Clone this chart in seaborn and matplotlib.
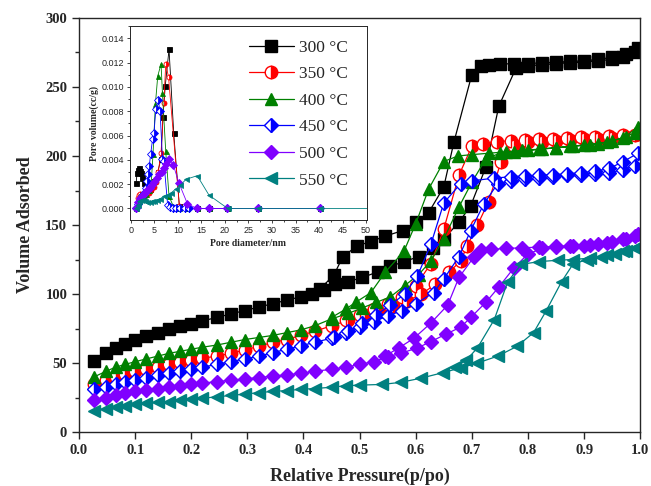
import numpy as np
import pandas as pd
import seaborn as sns
import matplotlib.pyplot as plt
from matplotlib.ticker import MultipleLocator

sns.set_style('ticks')
plt.rcParams['font.family'] = ['Liberation Serif', 'DejaVu Serif']

#---------------------Isotermas: rama de adsorcion y desorcion------------------
p300_ads = [0.027, 0.048, 0.065, 0.082, 0.10, 0.12, 0.14, 0.16, 0.18, 0.20, 0.22, 0.245, 0.27, 0.295,
            0.32, 0.345, 0.37, 0.395, 0.415, 0.436, 0.457, 0.48, 0.505, 0.532, 0.555, 0.579, 0.605,
            0.63, 0.65, 0.677, 0.698, 0.725, 0.748, 0.779, 0.80, 0.825, 0.85, 0.875, 0.90, 0.925,
            0.95, 0.97, 0.99]
v300_ads = [51.5, 57, 61, 64, 67, 69.5, 72, 74.5, 76.5, 78.5, 80.5, 83, 85.5, 88, 90.5, 93, 95.5,
            98, 100, 103, 107, 109, 112, 116, 120, 123.5, 127, 133, 140, 152, 164, 192, 236, 264,
            265.5, 266, 267, 267.5, 268, 269, 270, 272, 275]
p300_des = [0.996, 0.975, 0.95, 0.925, 0.90, 0.875, 0.85, 0.825, 0.80, 0.775, 0.75, 0.73, 0.716,
            0.70, 0.668, 0.65, 0.623, 0.60, 0.577, 0.546, 0.52, 0.496, 0.47, 0.454, 0.43]
v300_des = [278, 274, 271.5, 270, 269, 268.5, 268, 267.5, 267, 267, 266.5, 266, 265, 259, 210,
            177.6, 159, 152, 146, 142, 138, 135, 127, 113.6, 104]

p350_ads = [0.027, 0.048, 0.065, 0.082, 0.10, 0.12, 0.14, 0.16, 0.18, 0.20, 0.22, 0.245, 0.27, 0.295,
            0.32, 0.345, 0.37, 0.395, 0.42, 0.45, 0.48, 0.51, 0.535, 0.56, 0.585, 0.61, 0.635, 0.66,
            0.68, 0.692, 0.71, 0.73, 0.752, 0.775, 0.80, 0.825, 0.85, 0.875, 0.90, 0.925, 0.95,
            0.975, 0.99]
v350_ads = [35, 38, 40, 42, 44, 45.5, 47, 49, 50.5, 52, 53.5, 55, 57, 59.5, 62, 65, 67, 70, 73, 77,
            81, 85, 88, 91, 95, 100, 107, 116, 124, 135, 150, 167, 196, 207, 210, 210.5, 211, 211.5,
            212, 212.5, 213, 214, 215]
p350_des = [0.996, 0.97, 0.945, 0.92, 0.895, 0.87, 0.845, 0.82, 0.795, 0.77, 0.745, 0.72, 0.70,
            0.677, 0.65, 0.627, 0.60, 0.575, 0.55, 0.525, 0.50, 0.475]
v350_des = [216, 215, 214.5, 214, 213.5, 213, 212.5, 212, 211.5, 211, 210.5, 209, 207, 186, 147,
            122, 106, 98, 93, 89, 85, 81]

p400_ads = [0.027, 0.048, 0.065, 0.082, 0.10, 0.12, 0.14, 0.16, 0.18, 0.20, 0.22, 0.245, 0.27, 0.295,
            0.32, 0.345, 0.37, 0.395, 0.42, 0.45, 0.48, 0.505, 0.53, 0.555, 0.58, 0.605, 0.627,
            0.65, 0.677, 0.70, 0.725, 0.75, 0.775, 0.80, 0.825, 0.85, 0.875, 0.90, 0.925, 0.95,
            0.975, 0.99]
v400_ads = [40, 44, 47, 49, 51, 53, 55, 57, 58.5, 60, 61.5, 63, 65, 67, 68.5, 70, 72, 74, 77, 82,
            86, 90, 94, 98, 106, 114, 124, 140, 163, 181, 198, 202, 203, 204, 205, 206, 207, 208,
            209, 211, 214, 217]
p400_des = [0.996, 0.97, 0.94, 0.91, 0.88, 0.85, 0.82, 0.79, 0.76, 0.73, 0.70, 0.675, 0.65, 0.623,
            0.60, 0.579, 0.546, 0.52, 0.493, 0.475, 0.45]
v400_des = [221, 213, 210, 208, 207, 206, 205, 204, 203, 202, 201, 200, 196, 176, 151, 131, 116,
            101, 94, 89, 83]

p450_ads = [0.027, 0.048, 0.065, 0.082, 0.10, 0.12, 0.14, 0.16, 0.18, 0.20, 0.22, 0.245, 0.27, 0.295,
            0.32, 0.345, 0.37, 0.395, 0.42, 0.45, 0.475, 0.50, 0.525, 0.55, 0.575, 0.60, 0.632,
            0.65, 0.677, 0.698, 0.721, 0.746, 0.77, 0.795, 0.82, 0.845, 0.87, 0.895, 0.92, 0.945,
            0.97, 0.99]
v450_ads = [31, 33, 35, 36.5, 38, 39.5, 41, 42.5, 44, 45.5, 47, 49, 51, 53, 55, 57.5, 60, 62.5, 65,
            68, 72, 76, 80, 84, 88, 93, 101, 111, 127, 146, 165, 180, 182, 183, 184, 185, 186,
            186.5, 187, 188, 190, 193]
p450_des = [0.996, 0.97, 0.945, 0.92, 0.895, 0.87, 0.845, 0.82, 0.795, 0.77, 0.74, 0.70, 0.68,
            0.65, 0.627, 0.603, 0.58, 0.555, 0.53, 0.505, 0.48, 0.455]
v450_des = [202, 196, 191, 189, 188, 187, 186.5, 186, 185.5, 185, 184, 182, 180, 166, 136, 113,
            100, 92, 85, 79, 73, 69]

p500_ads = [0.027, 0.048, 0.065, 0.082, 0.10, 0.12, 0.14, 0.16, 0.18, 0.20, 0.22, 0.245, 0.27, 0.295,
            0.32, 0.345, 0.37, 0.395, 0.42, 0.45, 0.475, 0.50, 0.525, 0.55, 0.573, 0.603, 0.627,
            0.654, 0.68, 0.698, 0.725, 0.748, 0.775, 0.80, 0.825, 0.85, 0.875, 0.90, 0.925, 0.95,
            0.975, 0.99]
v500_ads = [23, 25, 26.5, 28, 29.5, 30.5, 31.5, 32.5, 33.5, 34.5, 35.5, 36.5, 37.5, 38.5, 39.5,
            40.5, 41.5, 42.5, 44, 45.5, 47, 49, 51, 54.5, 57, 61, 65.5, 71, 76, 83, 94, 105, 119,
            129, 133, 134, 134.5, 135, 136, 137.5, 140, 142]
p500_des = [0.996, 0.97, 0.94, 0.91, 0.88, 0.85, 0.82, 0.79, 0.76, 0.735, 0.716, 0.704, 0.677,
            0.657, 0.627, 0.597, 0.57, 0.545]
v500_des = [143.5, 140, 137, 135.5, 135, 134.5, 134, 133.5, 133, 132.5, 132, 127, 112, 92, 79, 68,
            61, 55]

p550_ads = [0.027, 0.048, 0.065, 0.082, 0.10, 0.12, 0.14, 0.16, 0.18, 0.20, 0.22, 0.245, 0.27, 0.295,
            0.32, 0.345, 0.37, 0.395, 0.42, 0.45, 0.475, 0.50, 0.54, 0.573, 0.609, 0.648, 0.68,
            0.71, 0.746, 0.78, 0.81, 0.832, 0.86, 0.88, 0.905, 0.93, 0.955, 0.975, 0.99]
v550_ads = [15.5, 17, 18, 19, 20, 21, 21.5, 22, 23, 24, 24.5, 25.5, 26.5, 27.5, 28.5, 29.5, 30,
            31, 31.5, 32.5, 33.5, 34, 34.5, 36, 39, 43, 46.5, 50, 55, 62, 72, 87.5, 109, 121.5, 125,
            127, 129, 131, 133]
p550_des = [0.996, 0.97, 0.94, 0.91, 0.88, 0.854, 0.82, 0.788, 0.764, 0.74, 0.71, 0.69, 0.67]
v550_des = [134, 131, 128, 126, 125, 124.5, 123.5, 121.5, 109, 81.5, 61, 52, 47]

#---------------------Distribucion de tamano de poro (inset)------------------
d300 = [1.1, 1.3, 1.5, 1.7, 1.9, 2.1, 2.4, 2.7, 3.1, 3.5, 4.0, 4.5, 5.0, 5.7, 6.4, 6.8, 7.3, 8.1,
        9.1, 10.3, 12.0, 14.0, 16.5, 20.5, 27.0, 40.3]
pv300 = [0.0021, 0.0029, 0.0032, 0.0033, 0.0031, 0.0029, 0.0025, 0.0021, 0.0017, 0.0015, 0.0016,
         0.0019, 0.0023, 0.0030, 0.0041, 0.0075, 0.0101, 0.0131, 0.0062, 0.0002, 0, 0, 0, 0, 0, 0]
d350 = [1.1, 1.4, 1.7, 2.0, 2.4, 2.8, 3.3, 3.8, 4.3, 4.8, 5.3, 5.8, 6.4, 7.0, 7.4, 8.0, 10.3,
        12.0, 14.0, 16.5, 20.5, 27.0, 40.3]
pv350 = [0, 0.0009, 0.0011, 0.0012, 0.0011, 0.0010, 0.0011, 0.0013, 0.0015, 0.0018, 0.0022,
         0.0030, 0.0046, 0.0087, 0.0119, 0.0108, 0.0002, 0, 0, 0, 0, 0, 0]
d400 = [1.1, 1.4, 1.7, 2.0, 2.4, 2.8, 3.3, 3.8, 4.3, 4.7, 5.2, 5.7, 6.4, 6.7, 7.4, 8.1, 9.0, 10.3,
        12.0, 14.0, 16.5, 20.5, 27.0, 40.3]
pv400 = [0, 0.0008, 0.0010, 0.0011, 0.0010, 0.0010, 0.0012, 0.0015, 0.0020, 0.0045, 0.0086,
         0.0109, 0.0119, 0.0095, 0.0047, 0.0010, 0.0002, 0, 0, 0, 0, 0, 0, 0]
d450 = [1.1, 1.5, 1.9, 2.3, 2.7, 3.1, 3.5, 3.7, 3.9, 4.2, 4.6, 4.9, 5.3, 5.8, 6.2, 6.7, 7.0, 7.8,
        8.3, 8.9, 9.6, 10.4, 11.4, 12.4, 14.0, 16.5, 20.5, 27.0, 40.3]
pv450 = [0, 0.0004, 0.0007, 0.0010, 0.0013, 0.0017, 0.0023, 0.0028, 0.0035, 0.0045, 0.0057,
         0.0062, 0.0082, 0.0089, 0.0080, 0.0041, 0.0039, 0.0003, 0.0001, 0, 0, 0, 0, 0, 0, 0, 0,
         0, 0]
d500 = [1.1, 1.5, 2.0, 2.5, 3.0, 3.5, 4.0, 4.5, 5.0, 5.5, 6.0, 6.5, 7.0, 7.4, 8.1, 9.0, 10.2, 12.0,
        14.0, 16.5, 20.5, 27.0, 40.3]
pv500 = [0, 0.0005, 0.0009, 0.0011, 0.0013, 0.0015, 0.0017, 0.0019, 0.0022, 0.0025, 0.0028,
         0.0030, 0.0033, 0.0037, 0.0041, 0.0036, 0.0021, 0.0004, 0, 0, 0, 0, 0]
d550 = [1.1, 1.4, 1.8, 2.2, 2.6, 3.0, 3.5, 4.0, 4.5, 5.0, 5.6, 6.2, 7.0, 7.8, 8.6, 9.5, 10.5, 11.7,
        14.1, 16.6, 20.6, 27.0, 40.3, 60.0]
pv550 = [0, 0.0003, 0.0006, 0.0007, 0.0007, 0.0006, 0.0005, 0.0005, 0.0006, 0.0006, 0.0007,
         0.0008, 0.0010, 0.0011, 0.0013, 0.0016, 0.0019, 0.0024, 0.0027, 0.0011, 0, 0, 0, 0]

etiquetas = ['300 °C', '350 °C', '400 °C', '450 °C', '500 °C', '550 °C']
colores = ['black', '#ff0000', '#008000', '#0000ff', '#8000ff', '#008080']
marcadores = ['s', 'o', '^', 'D', 'D', '<']
relleno = ['full', 'right', 'full', 'right', 'full', 'full']

isotermas = [(p300_ads + p300_des, v300_ads + v300_des),
             (p350_ads + p350_des, v350_ads + v350_des),
             (p400_ads + p400_des, v400_ads + v400_des),
             (p450_ads + p450_des, v450_ads + v450_des),
             (p500_ads + p500_des, v500_ads + v500_des),
             (p550_ads + p550_des, v550_ads + v550_des)]
poros = [(d300, pv300), (d350, pv350), (d400, pv400), (d450, pv450), (d500, pv500), (d550, pv550)]

fig = plt.figure(figsize=(6.51, 4.86), dpi=100)
ax = fig.add_axes([0.1214, 0.111, 0.862, 0.852])

msize = {'s': 8.5, 'o': 9, '^': 9, 'D': 7.5, '<': 9}
for (p, v), lab, c, m, f in zip(isotermas, etiquetas, colores, marcadores, relleno):
    sns.lineplot(x=p, y=v, sort=False, estimator=None, ax=ax, color=c, lw=0.9,
                 marker=m, markersize=msize[m], fillstyle=f, markerfacecolor=c,
                 markerfacecoloralt='white', markeredgecolor=c, markeredgewidth=1.0, label=lab)

ax.set_xlim(0, 1.0)
ax.set_ylim(0, 300)
ax.xaxis.set_major_locator(MultipleLocator(0.1))
ax.yaxis.set_major_locator(MultipleLocator(50))
ax.yaxis.set_minor_locator(MultipleLocator(25))
ax.tick_params(which='both', direction='out', width=1.0, labelsize=10.5)
ax.tick_params(which='major', length=5)
ax.tick_params(which='minor', length=3)
for lbl in ax.get_xticklabels() + ax.get_yticklabels():
    lbl.set_fontweight('bold')
for s in ax.spines.values():
    s.set_linewidth(1.0)
ax.set_xlabel('Relative Pressure(p/po)', fontsize=13, fontweight='bold', labelpad=8)
ax.set_ylabel('Volume Adsorbed', fontsize=13, fontweight='bold', labelpad=8)
handles, labels = ax.get_legend_handles_labels()
ax.get_legend().remove()

#---------------------Inset------------------
axin = fig.add_axes([0.1997, 0.547, 0.364, 0.399])
for (d, pv), c, m, f in zip(poros, colores, marcadores, relleno):
    sns.lineplot(x=d, y=pv, sort=False, estimator=None, ax=axin, color=c, lw=0.6,
                 marker=m, markersize=3.6, fillstyle=f, markerfacecolor=c,
                 markerfacecoloralt='white', markeredgecolor=c, markeredgewidth=0.6)
axin.set_xlim(-0.2, 50.2)
axin.set_ylim(-0.00096, 0.0150)
axin.xaxis.set_major_locator(MultipleLocator(5))
axin.yaxis.set_major_locator(MultipleLocator(0.002))
axin.yaxis.set_minor_locator(MultipleLocator(0.001))
axin.xaxis.set_minor_locator(MultipleLocator(2.5))
axin.yaxis.set_major_formatter(plt.FuncFormatter(lambda v, _: f'{v:.3f}'))
axin.tick_params(which='both', direction='out', width=0.6, labelsize=6.5, pad=1.5)
axin.tick_params(which='major', length=2.5)
axin.tick_params(which='minor', length=1.5)
for lbl in axin.get_xticklabels() + axin.get_yticklabels():
    lbl.set_fontfamily('Liberation Sans')
for s in axin.spines.values():
    s.set_linewidth(0.7)
axin.set_xlabel('Pore diameter/nm', fontsize=7, fontweight='bold', labelpad=3)
axin.set_ylabel('Pore volume(cc/g)', fontsize=7, fontweight='bold', labelpad=2)

axin.legend(handles, labels, loc='upper right', bbox_to_anchor=(0.965, 0.985), frameon=False,
            fontsize=12.5, handlelength=2.6, handletextpad=0.3, labelspacing=0.6,
            borderaxespad=0.2)

fig.savefig('out.png', dpi=100)
